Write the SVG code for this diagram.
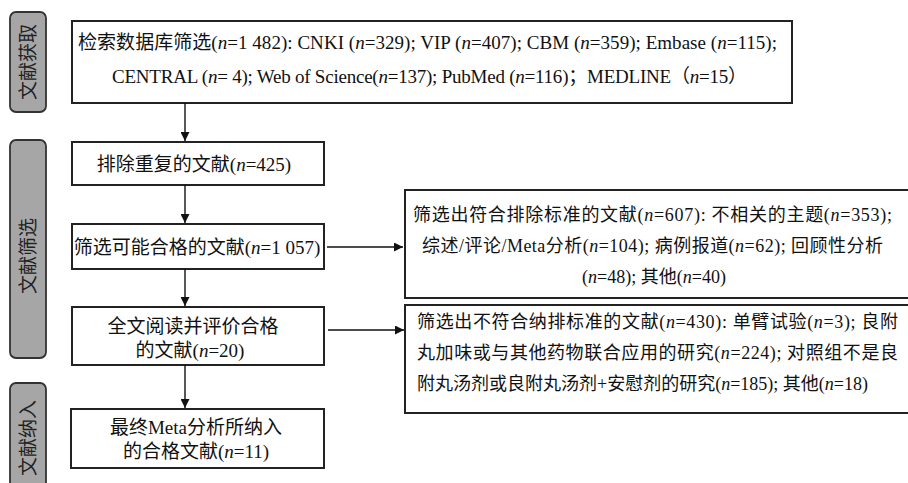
<svg xmlns="http://www.w3.org/2000/svg" width="908" height="483" viewBox="0 0 908 483">
<defs>
<marker id="ah" viewBox="0 0 10 10" refX="10" refY="5" markerWidth="10" markerHeight="9" markerUnits="userSpaceOnUse" orient="auto">
<path d="M0,0 L10,5 L0,10 Z" fill="#111"/>
</marker>
<style>
.box{fill:#fff;stroke:#222;stroke-width:2}
.lab{fill:#a6a6a6;stroke:#333;stroke-width:1.8}
.t{font-family:"Liberation Serif","Noto Sans CJK SC",serif;font-size:19px;fill:#111}
.s{font-size:18px}
.lt{font-family:"Noto Sans CJK SC",sans-serif;font-size:19px;fill:#222}
.c{text-anchor:middle}
.i{font-style:italic}
.con{stroke:#111;stroke-width:1.4;fill:none;marker-end:url(#ah)}
</style>
</defs>
<rect width="908" height="483" fill="#fff"/>

<g id="stage1"><rect class="lab" x="10" y="12" width="36" height="100" rx="6"/><text class="lt c" transform="translate(28,62) rotate(-90)" dy="7">文献获取</text></g>
<g id="stage2"><rect class="lab" x="10" y="140" width="36" height="218" rx="6"/><text class="lt c" transform="translate(28,256) rotate(-90)" dy="7">文献筛选</text></g>
<g id="stage3"><rect class="lab" x="10" y="383" width="36" height="120" rx="6"/><text class="lt c" transform="translate(28,438) rotate(-90)" dy="7">文献纳入</text></g>

<g id="search"><rect class="box" x="72" y="21" width="720" height="82"/>
<text class="t" x="78" y="49" textLength="699" lengthAdjust="spacing">检索数据库筛选(<tspan class="i">n</tspan>=1 482): CNKI (<tspan class="i">n</tspan>=329); VIP (<tspan class="i">n</tspan>=407); CBM (<tspan class="i">n</tspan>=359); Embase (<tspan class="i">n</tspan>=115);</text>
<text class="t" x="112" y="83" textLength="635" lengthAdjust="spacing">CENTRAL (<tspan class="i">n</tspan>= 4); Web of Science(<tspan class="i">n</tspan>=137); PubMed (<tspan class="i">n</tspan>=116)；MEDLINE（<tspan class="i">n</tspan>=15）</text></g>

<g id="dedup"><rect class="box" x="72" y="142" width="252" height="43"/>
<text class="t c" x="194" y="171">排除重复的文献(<tspan class="i">n</tspan>=425)</text></g>

<g id="screen"><rect class="box" x="72" y="224" width="252" height="45"/>
<text class="t c" x="197" y="254">筛选可能合格的文献(<tspan class="i">n</tspan>=1 057)</text></g>

<g id="fulltext"><rect class="box" x="72" y="307" width="252" height="58"/>
<text class="t c" x="193" y="333">全文阅读并评价合格</text>
<text class="t c" x="190" y="357">的文献(<tspan class="i">n</tspan>=20)</text></g>

<g id="included"><rect class="box" x="71" y="409" width="253" height="59"/>
<text class="t c" x="196" y="434">最终Meta分析所纳入</text>
<text class="t c" x="196" y="458">的合格文献(<tspan class="i">n</tspan>=11)</text></g>

<g id="excl1"><rect class="box" x="405" y="190" width="510" height="108"/>
<text class="t s" x="413" y="221" textLength="479" lengthAdjust="spacing">筛选出符合排除标准的文献(<tspan class="i">n</tspan>=607): 不相关的主题(<tspan class="i">n</tspan>=353);</text>
<text class="t s" x="422" y="252" textLength="461" lengthAdjust="spacing">综述/评论/Meta分析(<tspan class="i">n</tspan>=104); 病例报道(<tspan class="i">n</tspan>=62); 回顾性分析</text>
<text class="t s c" x="654" y="283">(<tspan class="i">n</tspan>=48); 其他(<tspan class="i">n</tspan>=40)</text></g>

<g id="excl2"><rect class="box" x="405" y="305" width="510" height="108"/>
<text class="t s" x="417" y="328" textLength="481" lengthAdjust="spacing">筛选出不符合纳排标准的文献(<tspan class="i">n</tspan>=430): 单臂试验(<tspan class="i">n</tspan>=3); 良附</text>
<text class="t s" x="417" y="359" textLength="481" lengthAdjust="spacing">丸加味或与其他药物联合应用的研究(<tspan class="i">n</tspan>=224); 对照组不是良</text>
<text class="t s" x="417" y="390">附丸汤剂或良附丸汤剂+安慰剂的研究(<tspan class="i">n</tspan>=185); 其他(<tspan class="i">n</tspan>=18)</text></g>

<g id="connectors">
<line class="con" x1="185" y1="103" x2="185" y2="141"/>
<line class="con" x1="185" y1="185" x2="185" y2="223"/>
<line class="con" x1="185" y1="269" x2="185" y2="306"/>
<line class="con" x1="185" y1="365" x2="185" y2="408"/>
<line class="con" x1="327" y1="247" x2="403" y2="247"/>
<line class="con" x1="328" y1="330" x2="404" y2="330"/>
</g>
</svg>
